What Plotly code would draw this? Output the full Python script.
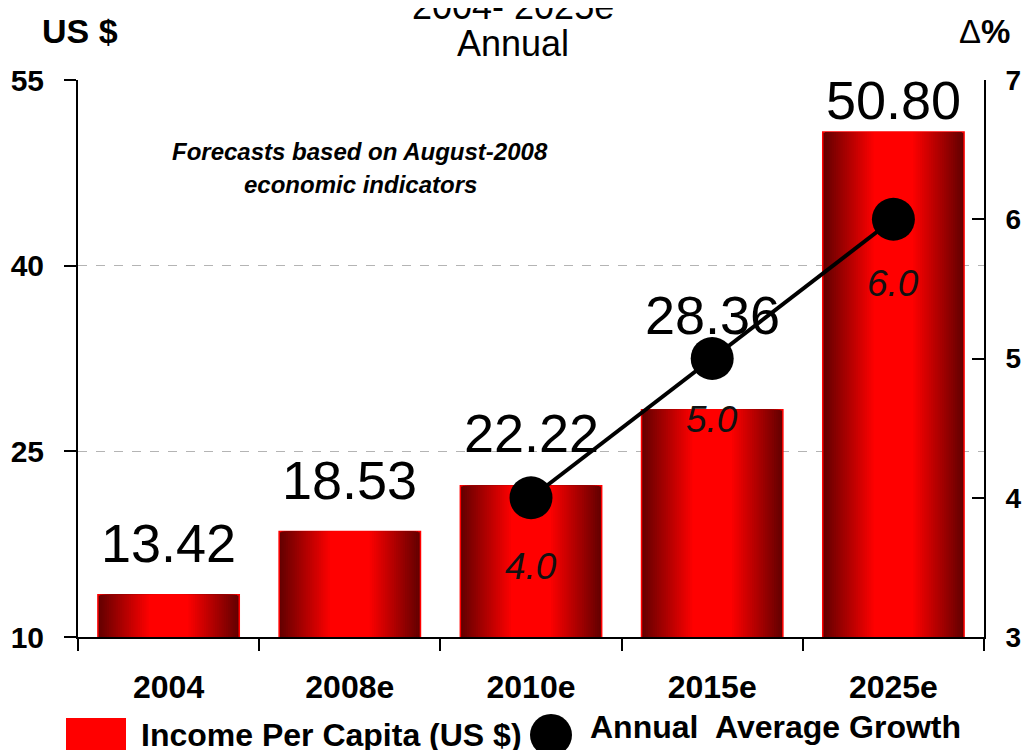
import plotly.graph_objects as go

# ---- data ----
categories = ["2004", "2008e", "2010e", "2015e", "2025e"]
income = [13.42, 18.53, 22.22, 28.36, 50.80]
income_labels = ["13.42", "18.53", "22.22", "28.36", "50.80"]
growth_cats = ["2010e", "2015e", "2025e"]
growth = [4.0, 5.0, 6.0]
growth_labels = ["4.0", "5.0", "6.0"]
left_ticks = [10, 25, 40, 55]
right_ticks = [3, 4, 5, 6, 7]

# ---- style ----
NARROW = "Liberation Sans Narrow, Arial Narrow, Liberation Sans, Arial"
SANS = "Liberation Sans, Arial"
BAR_W = 0.78
N_LAYERS = 32
value_yshift = [52, 51, 53, 95, 32]
growth_yshift = [-69, -61, -64]

# page body has an 8px margin: figure is drawn from (8, 8) in the window
OFF = 8
W, H = 1031 - OFF, 750 - OFF
ML, MT = 78 - OFF, 80 - OFF
PW, PH = 906, 557
MR = W - ML - PW
MB = H - MT - PH


def px(x):  # window pixel -> paper x
    return (x - OFF - ML) / PW


def py(y):  # window pixel -> paper y
    return (H - MB - (y - OFF)) / PH


def shade(d):
    # d: 0 at bar centre, 1 at bar edge
    if d < 0.28:
        r = 255
    else:
        t = (d - 0.28) / 0.72
        r = int(round(255 - (255 - 100) * t))
    return f"rgb({r},0,0)"


fig = go.Figure()

for k in range(N_LAYERS):
    d = 1 - k / N_LAYERS
    fig.add_trace(go.Bar(
        x=categories, y=income, width=BAR_W * d,
        marker=dict(color=shade(d),
                    line=dict(color="#ff0000", width=1.5 if k == 0 else 0)),
        showlegend=False, hoverinfo="skip",
    ))

fig.add_trace(go.Scatter(
    x=growth_cats, y=growth, yaxis="y2", mode="lines+markers",
    line=dict(color="black", width=4),
    marker=dict(color="black", size=43),
    showlegend=False, hoverinfo="skip",
))

for c, v, t, s in zip(categories, income, income_labels, value_yshift):
    fig.add_annotation(x=categories.index(c), y=v, xref="x", yref="y", text=t, showarrow=False,
                       yanchor="middle", yshift=s,
                       font=dict(family=NARROW, size=54, color="black"))
for c, v, t, s in zip(growth_cats, growth, growth_labels, growth_yshift):
    fig.add_annotation(x=categories.index(c), y=v, xref="x", yref="y2", text=f"<i>{t}</i>",
                       showarrow=False, yanchor="middle", yshift=s,
                       font=dict(family=NARROW, size=37, color="#111111"))

extra = [
    dict(x=513, y=6, text="2004- 2025e", size=36, fam=NARROW),
    dict(x=513, y=44, text="Annual", size=36, fam=NARROW),
    dict(x=80, y=31, text="<b>US $</b>", size=34, fam=SANS),
    dict(x=984, y=31, text="Δ<b>%</b>", size=33, fam=SANS),
    dict(x=360, y=151, text="<b><i>Forecasts based on August-2008</i></b>", size=24, fam=NARROW),
    dict(x=360, y=184, text="<b><i>economic indicators</i></b>", size=24, fam=NARROW),
    dict(x=139, y=735, text="<b>Income Per Capita (US $)</b>", size=32, fam=SANS, xanchor="left"),
    dict(x=588, y=727, text="<b>Annual  Average Growth</b>", size=32, fam=SANS, xanchor="left"),
]
for e in extra:
    fig.add_annotation(x=px(e["x"]), y=py(e["y"]), xref="paper", yref="paper", text=e["text"],
                       showarrow=False, xanchor=e.get("xanchor", "center"), yanchor="middle",
                       font=dict(family=e["fam"], size=e["size"], color="black"))

# legend symbols
fig.add_shape(type="rect", xref="paper", yref="paper", xsizemode="pixel", ysizemode="pixel",
              xanchor=px(96), yanchor=py(734), x0=-30, x1=30, y0=-16, y1=16,
              fillcolor="#ff0000", line=dict(width=0))
fig.add_shape(type="circle", xref="paper", yref="paper", xsizemode="pixel", ysizemode="pixel",
              xanchor=px(551), yanchor=py(735), x0=-21, x1=21, y0=-21, y1=21,
              fillcolor="black", line=dict(width=0))

tickfont_y = dict(family=SANS, size=30, color="black", weight="bold")
tick_common = dict(ticklen=12, tickwidth=2, tickcolor="black")
fig.update_layout(
    width=W, height=H, margin=dict(l=ML, r=MR, t=MT, b=MB, autoexpand=False),
    paper_bgcolor="white", plot_bgcolor="white",
    barmode="overlay", showlegend=False,
    xaxis=dict(type="category", categoryorder="array", categoryarray=categories,
               tickson="boundaries", ticks="outside", **tick_common,
               showline=True, linecolor="black", linewidth=2, showgrid=False,
               tickfont=dict(family=SANS, size=32, color="black", weight="bold"),
               ticklabelstandoff=21, range=[-0.5, 4.5], automargin=False),
    xaxis2=dict(overlaying="x", range=[-0.5, 4.5], tickmode="linear", tick0=-0.5, dtick=1,
                ticks="inside", **tick_common,
                showticklabels=False, showgrid=False, showline=False, side="bottom",
                anchor="y", automargin=False),
    yaxis=dict(range=[10, 55], tickvals=left_ticks, ticks="outside", **tick_common,
               showline=True, linecolor="black", linewidth=2,
               showgrid=True, gridcolor="#b4b4b4", griddash="dash", gridwidth=1,
               tickfont=tickfont_y, ticklabelstandoff=14, zeroline=False, automargin=False),
    yaxis2=dict(range=[3, 7], tickvals=right_ticks, overlaying="y", side="right",
                ticks="inside", **tick_common,
                showline=True, linecolor="black", linewidth=2, showgrid=False,
                tickfont=dict(family=SANS, size=28, color="black", weight="bold"),
                ticklabelstandoff=14, zeroline=False, automargin=False),
    yaxis3=dict(range=[10, 55], tickvals=left_ticks, overlaying="y", side="left",
                ticks="inside", **tick_common,
                showticklabels=False, showgrid=False, showline=False, zeroline=False,
                automargin=False),
    yaxis4=dict(range=[3, 7], tickvals=right_ticks, overlaying="y", side="right",
                ticks="outside", **tick_common,
                showticklabels=False, showgrid=False, showline=False, zeroline=False,
                automargin=False),
)

fig.write_html("out.html")
